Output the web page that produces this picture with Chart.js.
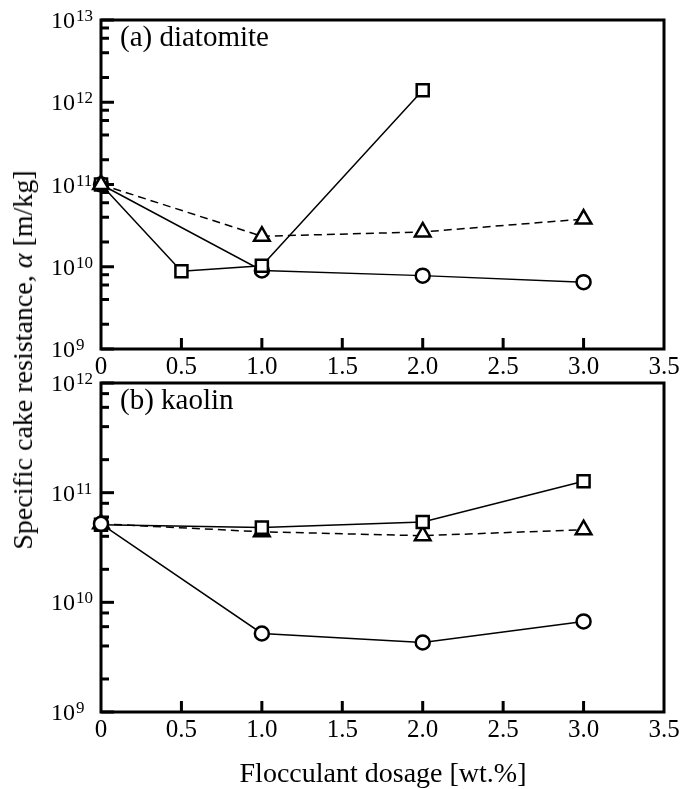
<!DOCTYPE html>
<html>
<head>
<meta charset="utf-8">
<script src="https://cdn.jsdelivr.net/npm/chart.js@4.4.1/dist/chart.umd.min.js"></script>
<style>
  body { margin: 0; background: #fff; width: 688px; height: 789px; position: relative; overflow: hidden; font-family: "Liberation Serif", serif; color: #000; }
  canvas { position: absolute; left: 0; }
  #chartA { top: 0; }
  #chartB { top: 370px; }
  #yTitle { position: absolute; left: 23px; top: 360px; transform: translate(-50%, -50%) rotate(-90deg); white-space: nowrap; font-size: 28px; }
  #xTitle { position: absolute; left: 383px; top: 773px; transform: translate(-50%, -50%); white-space: nowrap; font-size: 28px; }
</style>
</head>
<body>
<canvas id="chartA" width="688" height="390"></canvas>
<canvas id="chartB" width="688" height="400"></canvas>
<div id="yTitle">Specific cake resistance, <i>α</i> [m/kg]</div>
<div id="xTitle">Flocculant dosage [wt.%]</div>
<script>
// ── Data ───────────────────────────────────────────────────────────────────
const dosageA       = [0, 1.0, 2.0, 3.0];
const dosageSquareA = [0, 0.5, 1.0, 2.0];
const circleA   = [1.0e11, 9.0e9, 7.8e9, 6.5e9];
const squareA   = [1.0e11, 8.8e9, 1.03e10, 1.4e12];
const triangleA = [1.0e11, 2.35e10, 2.65e10, 3.8e10];

const dosageB   = [0, 1.0, 2.0, 3.0];
const circleB   = [5.2e10, 5.2e9, 4.3e9, 6.7e9];
const squareB   = [5.1e10, 4.8e10, 5.4e10, 1.27e11];
const triangleB = [5.2e10, 4.4e10, 4.05e10, 4.6e10];

const xTickValues  = [0, 0.5, 1.0, 1.5, 2.0, 2.5, 3.0, 3.5];
const xTickLabels  = ['0', '0.5', '1.0', '1.5', '2.0', '2.5', '3.0', '3.5'];
const minorFactors = [2, 4, 6, 8];

const FONT = '"Liberation Serif", "Times New Roman", serif';

const pts = (xs, ys) => xs.map((x, i) => ({ x: x, y: ys[i] }));

function series(data, style, dashed, order) {
    return {
        data: data,
        order: order,
        clip: false,
        borderColor: '#000',
        borderWidth: 1.5,
        borderDash: dashed ? [8, 5] : [],
        pointStyle: style,
        pointRadius: style === 'circle' ? 7 : (style === 'rect' ? 8.5 : 9),
        pointBorderWidth: 2.5,
        pointBorderColor: '#000',
        pointBackgroundColor: '#fff',
        tension: 0
    };
}

// ── Frame, inward ticks and labels ─────────────────────────────────────────
const framePlugin = {
    id: 'frame',
    beforeDatasetsDraw(chart) {
        const { ctx, chartArea: a, scales: { x, y } } = chart;
        ctx.save();
        ctx.strokeStyle = '#000';
        ctx.lineWidth = 3;
        ctx.strokeRect(a.left, a.top, a.right - a.left, a.bottom - a.top);
        // x ticks (inward, bottom only)
        xTickValues.slice(1, -1).forEach(v => {
            const px = x.getPixelForValue(v);
            ctx.beginPath(); ctx.moveTo(px, a.bottom); ctx.lineTo(px, a.bottom - 11); ctx.stroke();
        });
        // y ticks (inward, left only)
        for (let e = Math.round(Math.log10(y.min)); e <= Math.round(Math.log10(y.max)); e++) {
            const py = y.getPixelForValue(Math.pow(10, e));
            ctx.beginPath(); ctx.moveTo(a.left, py); ctx.lineTo(a.left + 13, py); ctx.stroke();
            if (Math.pow(10, e) < y.max) {
                minorFactors.forEach(f => {
                    const my = y.getPixelForValue(f * Math.pow(10, e));
                    ctx.beginPath(); ctx.moveTo(a.left, my); ctx.lineTo(a.left + 8, my); ctx.stroke();
                });
            }
        }
        ctx.restore();
    },
    afterDraw(chart) {
        const { ctx, chartArea: a, scales: { x, y } } = chart;
        const opts = chart.options.plugins.frame;
        ctx.save();
        ctx.fillStyle = '#000';
        // x tick labels
        ctx.font = '25px ' + FONT;
        ctx.textAlign = 'center';
        ctx.textBaseline = 'middle';
        xTickValues.forEach((v, i) => {
            ctx.fillText(xTickLabels[i], x.getPixelForValue(v), a.bottom + 18);
        });
        // y tick labels 10^n
        for (let e = Math.round(Math.log10(y.min)); e <= Math.round(Math.log10(y.max)); e++) {
            const py = y.getPixelForValue(Math.pow(10, e));
            ctx.textAlign = 'left';
            ctx.textBaseline = 'alphabetic';
            ctx.font = '24px ' + FONT;
            ctx.fillText('10', 51, py + 8);
            const w = ctx.measureText('10').width;
            ctx.font = '17px ' + FONT;
            ctx.fillText(String(e), 51 + w + 1, py + 1);
        }
        // panel label
        ctx.font = '29px ' + FONT;
        ctx.textAlign = 'left';
        ctx.textBaseline = 'alphabetic';
        ctx.fillText(opts.label, a.left + 19, a.top + 26);
        ctx.restore();
    }
};

function makeChart(id, datasets, yMin, yMax, pad, label) {
    return new Chart(document.getElementById(id), {
        type: 'line',
        data: { datasets: datasets },
        options: {
            responsive: false,
            animation: false,
            layout: { padding: pad },
            plugins: { legend: { display: false }, tooltip: { enabled: false }, frame: { label: label } },
            scales: {
                x: { type: 'linear', min: 0, max: 3.5, display: false },
                y: { type: 'logarithmic', min: yMin, max: yMax, display: false }
            }
        },
        plugins: [framePlugin]
    });
}

makeChart('chartA', [
    series(pts(dosageA, circleA), 'circle', false, 3),
    series(pts(dosageSquareA, squareA), 'rect', false, 2),
    series(pts(dosageA, triangleA), 'triangle', true, 1)
], 1e9, 1e13, { left: 101, top: 20, right: 24, bottom: 41 }, '(a) diatomite');

makeChart('chartB', [
    series(pts(dosageB, triangleB), 'triangle', true, 3),
    series(pts(dosageB, squareB), 'rect', false, 2),
    series(pts(dosageB, circleB), 'circle', false, 1)
], 1e9, 1e12, { left: 101, top: 13, right: 24, bottom: 58 }, '(b) kaolin');
</script>
</body>
</html>
